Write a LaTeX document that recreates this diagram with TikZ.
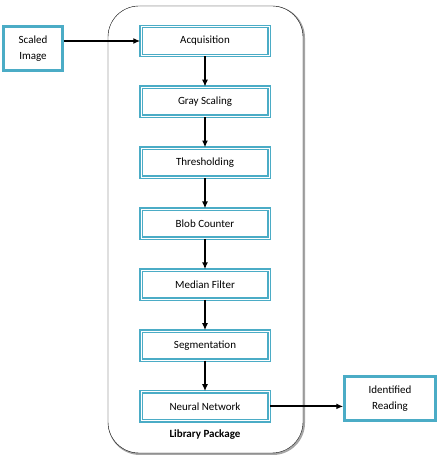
\documentclass[tikz,border=0pt]{standalone}
\usepackage{fontspec}
\setmainfont{Carlito}
\usepackage{tikz}
\usetikzlibrary{positioning,arrows.meta}

\definecolor{boxteal}{RGB}{75,172,198}

\begin{document}
\begin{tikzpicture}[x=1pt,y=1pt,
  stage/.style={draw=boxteal,line width=1.5pt,double=white,double distance=0.8pt,
    minimum width=128pt,minimum height=29pt,inner sep=0pt,font=\fontsize{11}{13}\selectfont},
  side/.style={draw=boxteal,line width=2.5pt,align=center,inner sep=0pt,
    font=\fontsize{11}{16}\selectfont},
  flow/.style={-{Latex[length=7pt,width=6pt]},line width=1.8pt},
  node distance=30.4pt]
\useasboundingbox (0,0) rectangle (444,456);

% library package frame
\draw[gray!70,line width=2pt,rounded corners=31pt] (109,2) rectangle (304,449);
\draw[rounded corners=31pt,fill=white] (108,3) rectangle (303,450);
\node[font=\fontsize{11}{13}\selectfont\bfseries] (pkg) at (205,21) {Library Package};

% stages
\node[stage] (acq) at (205,415) {Acquisition};
\node[stage,below=of acq] (gray) {Gray Scaling};
\node[stage,below=of gray] (thr) {Thresholding};
\node[stage,below=of thr] (blob) {Blob Counter};
\node[stage,below=of blob] (med) {Median Filter};
\node[stage,below=of med] (seg) {Segmentation};
\node[stage,below=of seg] (net) {Neural Network};

% input and output
\node[side,minimum width=59pt,minimum height=44pt] (img) at (33,407.5) {Scaled\\Image};
\node[side,minimum width=91pt,minimum height=44pt] (out) at (390,57.5) {Identified\\Reading};

\draw[flow] (img.east |- acq.west) -- (acq.west);
\foreach \a/\b in {acq/gray,gray/thr,thr/blob,blob/med,med/seg,seg/net}
  \draw[flow] (\a) -- (\b);
\draw[flow] (net.east) -- (net.east -| out.west);
\end{tikzpicture}
\end{document}
